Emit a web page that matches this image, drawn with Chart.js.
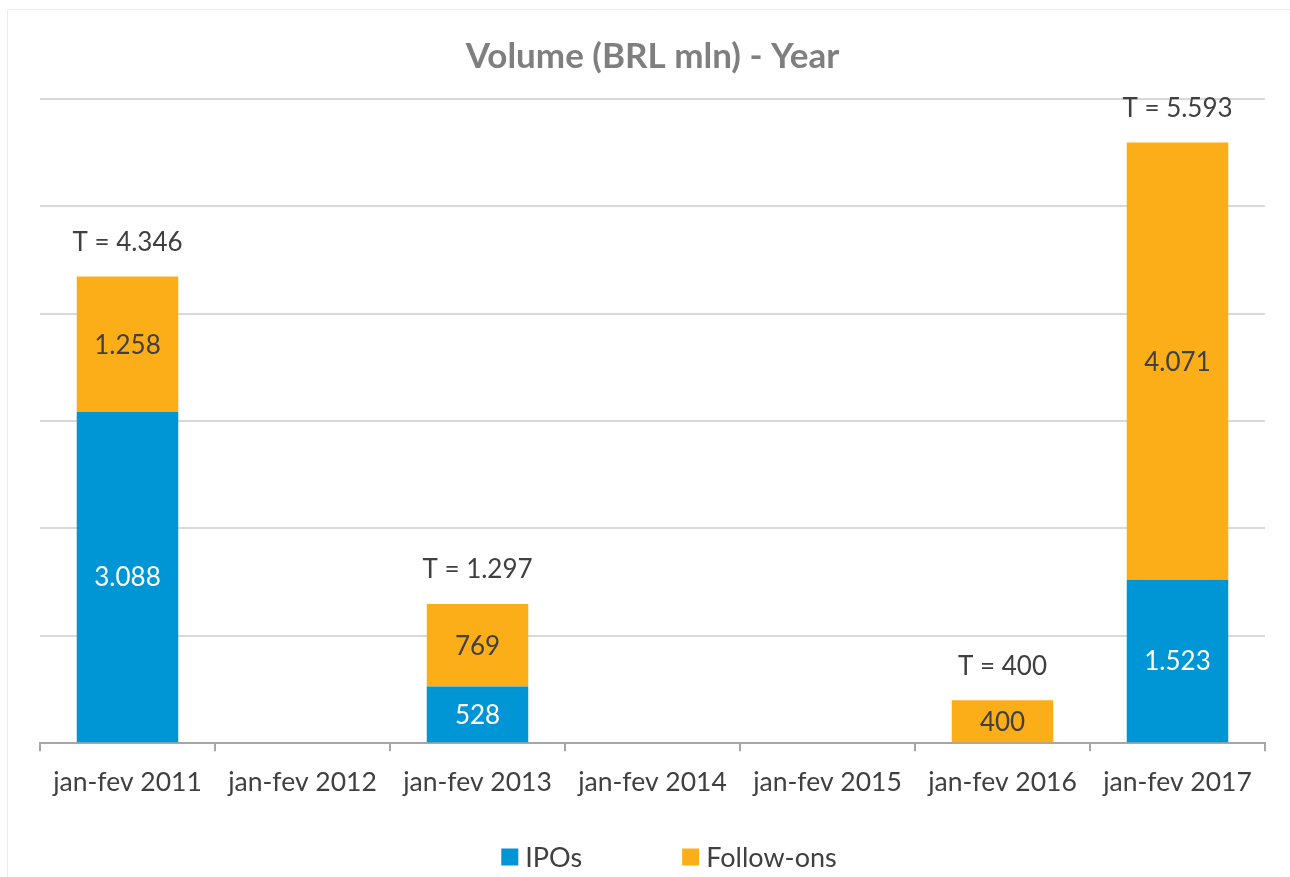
<!DOCTYPE html>
<html>
<head>
<meta charset="utf-8">
<script src="https://cdn.jsdelivr.net/npm/chart.js@4.4.0/dist/chart.umd.min.js"></script>
<style>
  html, body { margin: 0; padding: 0; background: #fff; }
  #wrap { width: 1290px; height: 877px; position: relative; }
</style>
</head>
<body>
<div id="wrap"><canvas id="c" width="1290" height="877"></canvas></div>
<script>
// chart data
const categories = ['jan-fev 2011', 'jan-fev 2012', 'jan-fev 2013', 'jan-fev 2014', 'jan-fev 2015', 'jan-fev 2016', 'jan-fev 2017'];
const ipos = [3088, null, 528, null, null, null, 1523];
const followOns = [1258, null, 769, null, null, 400, 4071];
const totals = [4346, null, 1297, null, null, 400, 5593];

const BLUE = '#0096d6';
const ORANGE = '#fbae17';
const TEXT = '#404040';
const FONT = 'Lato, "Open Sans", sans-serif';

// brazilian style thousands separator
function fmt(v) {
  return String(v).replace(/\B(?=(\d{3})+(?!\d))/g, '.');
}

// frame + background
const framePlugin = {
  id: 'frame',
  beforeDraw(chart) {
    const ctx = chart.ctx;
    ctx.save();
    ctx.fillStyle = '#fff';
    ctx.fillRect(0, 0, chart.width, chart.height);
    ctx.strokeStyle = '#ececec';
    ctx.lineWidth = 1;
    ctx.beginPath();
    ctx.moveTo(7.5, chart.height);
    ctx.lineTo(7.5, 9.5);
    ctx.lineTo(chart.width, 9.5);
    ctx.stroke();
    ctx.restore();
  }
};

// values inside bars and totals on top
const labelPlugin = {
  id: 'labels',
  afterDatasetsDraw(chart) {
    const ctx = chart.ctx;
    ctx.save();
    ctx.font = '26px ' + FONT;
    ctx.textAlign = 'center';
    ctx.textBaseline = 'middle';
    chart.data.datasets.forEach((ds, di) => {
      chart.getDatasetMeta(di).data.forEach((bar, i) => {
        const v = ds.data[i];
        if (v == null) return;
        ctx.fillStyle = di === 0 ? '#fff' : TEXT;
        ctx.fillText(fmt(v), bar.x, (bar.y + bar.base) / 2 + 1);
      });
    });
    const y = chart.scales.y;
    const x = chart.scales.x;
    ctx.fillStyle = TEXT;
    totals.forEach((t, i) => {
      if (t == null) return;
      ctx.fillText('T = ' + fmt(t), x.getPixelForValue(i), y.getPixelForValue(t) - 34);
    });
    ctx.restore();
  }
};

// legend drawn at the bottom
const legendPlugin = {
  id: 'customLegend',
  afterDraw(chart) {
    const ctx = chart.ctx;
    ctx.save();
    ctx.font = '27px ' + FONT;
    ctx.textBaseline = 'middle';
    const items = chart.data.datasets.map(d => ({ text: d.label, color: d.backgroundColor }));
    const box = 17, gap = 7, spacing = 100;
    const widths = items.map(it => box + gap + ctx.measureText(it.text).width);
    const total = widths.reduce((a, b) => a + b, 0) + spacing * (items.length - 1);
    let cx = chart.width / 2 - total / 2 + 24;
    const cy = 857;
    items.forEach((it, i) => {
      ctx.fillStyle = it.color;
      ctx.fillRect(cx, cy - box / 2, box, box);
      ctx.fillStyle = TEXT;
      ctx.fillText(it.text, cx + box + gap, cy + 1);
      cx += widths[i] + spacing;
    });
    ctx.restore();
  }
};

new Chart(document.getElementById('c'), {
  type: 'bar',
  data: {
    labels: categories,
    datasets: [
      { label: 'IPOs', data: ipos, backgroundColor: BLUE, categoryPercentage: 1, barPercentage: 0.58 },
      { label: 'Follow-ons', data: followOns, backgroundColor: ORANGE, categoryPercentage: 1, barPercentage: 0.58 }
    ]
  },
  options: {
    responsive: false,
    animation: false,
    layout: { padding: { left: 40, right: 25, top: 0, bottom: 64 } },
    plugins: {
      legend: { display: false },
      tooltip: { enabled: false },
      title: {
        display: true,
        text: 'Volume (BRL mln) - Year',
        color: '#7f7f7f',
        font: { family: FONT, size: 35, weight: 'bold' },
        padding: { top: 36, bottom: 21 }
      }
    },
    scales: {
      x: {
        stacked: true,
        grid: { drawOnChartArea: false, drawTicks: true, tickLength: 8, color: '#a6a6a6', lineWidth: 2 },
        border: { color: '#a6a6a6', width: 2 },
        ticks: { color: TEXT, font: { family: FONT, size: 26.5 }, padding: 15 }
      },
      y: {
        stacked: true,
        min: 0,
        max: 6000,
        afterFit(s) { s.width = 0; },
        ticks: { display: false, stepSize: 1000 },
        grid: { color: '#d9d9d9', lineWidth: 2, drawTicks: false },
        border: { display: false }
      }
    }
  },
  plugins: [framePlugin, labelPlugin, legendPlugin]
});
</script>
</body>
</html>
